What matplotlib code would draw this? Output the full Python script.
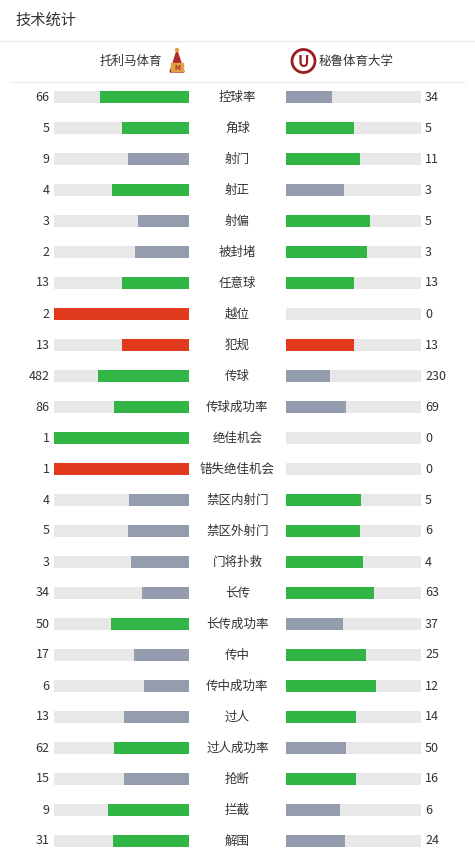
import matplotlib
matplotlib.use("Agg")
import matplotlib.pyplot as plt
from matplotlib.patches import Circle, Polygon, Rectangle
import numpy as np

plt.rcParams['font.family'] = ['Noto Sans CJK SC', 'DejaVu Sans']

home_team = "托利马体育"
away_team = "秘鲁体育大学"

stats = ["控球率", "角球", "射门", "射正", "射偏", "被封堵", "任意球", "越位", "犯规",
         "传球", "传球成功率", "绝佳机会", "错失绝佳机会", "禁区内射门", "禁区外射门",
         "门将扑救", "长传", "长传成功率", "传中", "传中成功率", "过人", "过人成功率",
         "抢断", "拦截", "解围"]
home = [66, 5, 9, 4, 3, 2, 13, 2, 13, 482, 86, 1, 1, 4, 5, 3, 34, 50, 17, 6, 13, 62, 15, 9, 31]
away = [34, 5, 11, 3, 5, 3, 13, 0, 13, 230, 69, 0, 0, 5, 6, 4, 63, 37, 25, 12, 14, 50, 16, 6, 24]
# stats where the higher number is bad -> red
bad_stats = ["越位", "犯规", "错失绝佳机会"]

GREEN = "#31b545"
GREY = "#949cae"
RED = "#e0391e"
TRACK = "#e8e8e8"
TXT = "#333333"

W, H = 475, 857
fig = plt.figure(figsize=(W / 100, H / 100), dpi=100)
ax = fig.add_axes([0, 0, 1, 1])
ax.set_xlim(0, W)
ax.set_ylim(H, 0)
ax.axis("off")

# header
ax.text(15, 20, "技术统计", fontsize=11, color=TXT, va="center", ha="left")
ax.plot([0, W], [40.5, 40.5], color="#eeeeee", lw=1)
ax.plot([10, 465], [81.5, 81.5], color="#eeeeee", lw=1)
ax.text(162, 61, home_team, fontsize=9, color=TXT, va="center", ha="right")
ax.text(319, 61, away_team, fontsize=9, color=TXT, va="center", ha="left")

# home logo (pennant-ish crest)
ax.add_patch(Polygon([[177, 51], [170, 72], [184, 72]], closed=True, color="#b3262b"))
ax.add_patch(Rectangle((171, 63), 12, 8, color="#d9a441"))
ax.text(177, 67.5, "M", fontsize=5, color="#b3262b", ha="center", va="center", weight="bold")
ax.add_patch(Circle((177, 50), 1.5, color="#d9a441"))
# away logo (U in circle)
ax.add_patch(Circle((303.5, 61), 11.5, fill=False, ec="#9b1b1f", lw=2))
ax.text(303.5, 61.5, "U", fontsize=11, color="#9b1b1f", ha="center", va="center", weight="bold")

y = 97 + 31 * np.arange(len(stats))
bar_w = 135
lx, rx = 54, 286
bh = 12

tot = np.array(home) + np.array(away)
hfrac = np.where(tot > 0, np.array(home) / np.maximum(tot, 1), 0)
afrac = np.where(tot > 0, np.array(away) / np.maximum(tot, 1), 0)

hcol, acol = [], []
for s, h, a in zip(stats, home, away):
    hi = RED if s in bad_stats else GREEN
    hcol.append(hi if h >= a else GREY)
    acol.append(hi if a >= h else GREY)

ax.barh(y, bar_w, left=lx, height=bh, color=TRACK)
ax.barh(y, bar_w, left=rx, height=bh, color=TRACK)
ax.barh(y, hfrac * bar_w, left=lx + bar_w - hfrac * bar_w, height=bh, color=hcol)
ax.barh(y, afrac * bar_w, left=rx, height=bh, color=acol)

for yi, s, h, a in zip(y, stats, home, away):
    ax.text(49.5, yi, str(h), fontsize=9, color=TXT, ha="right", va="center")
    ax.text(425, yi, str(a), fontsize=9, color=TXT, ha="left", va="center")
    ax.text(237.5, yi, s, fontsize=9, color=TXT, ha="center", va="center")

fig.savefig("out.png", dpi=100, facecolor="white")
